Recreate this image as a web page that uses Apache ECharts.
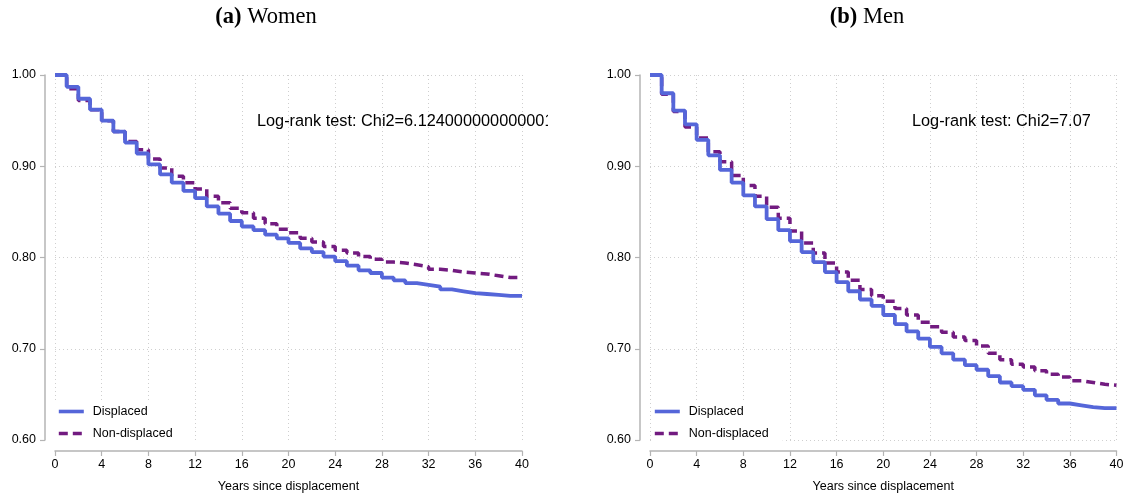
<!DOCTYPE html>
<html>
<head>
<meta charset="utf-8">
<title>Survival by displacement</title>
<script src="https://cdn.jsdelivr.net/npm/echarts@6/dist/echarts.min.js"></script>
<style>
  html, body { margin: 0; padding: 0; background: #fff; }
  #chart { width: 1130px; height: 498px; }
</style>
</head>
<body>
<div id="chart"></div>
<script>
// years since displacement (one step per year)
const years = [0, 1, 2, 3, 4, 5, 6, 7, 8, 9, 10, 11, 12, 13, 14, 15, 16, 17, 18, 19, 20,
  21, 22, 23, 24, 25, 26, 27, 28, 29, 30, 31, 32, 33, 34, 35, 36, 37, 38, 39, 40];

// (a) Women
const womenDisplaced = [1.000, 0.987, 0.974, 0.962, 0.950, 0.938, 0.926, 0.914, 0.902, 0.891,
  0.882, 0.873, 0.865, 0.856, 0.848, 0.840, 0.834, 0.830, 0.825, 0.821,
  0.816, 0.810, 0.806, 0.801, 0.796, 0.791, 0.786, 0.783, 0.778, 0.775,
  0.772, 0.770, 0.768, 0.765, 0.763, 0.761, 0.760, 0.759, 0.758, 0.758, 0.758];
const womenNonDisplaced = [1.000, 0.985, 0.972, 0.962, 0.950, 0.938, 0.927, 0.918, 0.908, 0.898,
  0.889, 0.882, 0.875, 0.867, 0.860, 0.854, 0.849, 0.843, 0.837, 0.831,
  0.827, 0.821, 0.817, 0.812, 0.808, 0.805, 0.801, 0.798, 0.795, 0.794,
  0.792, 0.790, 0.787, 0.786, 0.784, 0.783, 0.782, 0.780, 0.778, 0.778, 0.778];

// (b) Men
const menDisplaced = [1.000, 0.980, 0.961, 0.946, 0.929, 0.912, 0.896, 0.882, 0.868, 0.856,
  0.842, 0.830, 0.818, 0.806, 0.795, 0.784, 0.773, 0.763, 0.754, 0.747,
  0.737, 0.727, 0.719, 0.711, 0.702, 0.695, 0.688, 0.682, 0.677, 0.670,
  0.663, 0.659, 0.655, 0.649, 0.644, 0.640, 0.638, 0.636, 0.635, 0.635, 0.635];
const menNonDisplaced = [1.000, 0.979, 0.960, 0.943, 0.931, 0.916, 0.905, 0.890, 0.879, 0.867,
  0.855, 0.843, 0.829, 0.816, 0.805, 0.794, 0.784, 0.775, 0.765, 0.758,
  0.752, 0.744, 0.737, 0.729, 0.724, 0.718, 0.713, 0.709, 0.703, 0.695,
  0.688, 0.683, 0.680, 0.676, 0.672, 0.669, 0.665, 0.663, 0.661, 0.660, 0.660];

const panelTitles = ["(a)", "(b)"];
const panelNames = ["Women", "Men"];
const logRankText = ["Log-rank test: Chi2=6.124000000000001", "Log-rank test: Chi2=7.07"];
const seriesNames = ["Displaced", "Non-displaced"];
const xName = "Years since displacement";

const BLUE = "#5566d9";
const PURPLE = "#721b80";
const AXIS_GREY = "#b4b4b4";
const GRID_GREY = "#cfcfcf";
const SANS = "'Liberation Sans', Arial, Helvetica, sans-serif";
const SERIF = "'Liberation Serif', 'Times New Roman', serif";

function pairs(ys) {
  return years.map((x, i) => [x, ys[i]]);
}

// plot areas in px (x = 0..40, y = 0.60..1.00)
const grids = [
  { left: 55, right: 608, top: 75, bottom: 57 },
  { left: 650, right: 13.5, top: 75, bottom: 57 }
];

function makeX(i) {
  return {
    type: "value",
    gridIndex: i,
    min: 0,
    max: 40,
    interval: 4,
    offset: 11,
    name: xName,
    nameLocation: "middle",
    nameGap: 29,
    nameTextStyle: { fontFamily: SANS, fontSize: 12.5, color: "#000" },
    axisLine: { onZero: false, lineStyle: { color: AXIS_GREY, width: 1.5 } },
    axisTick: { length: 5, lineStyle: { color: AXIS_GREY, width: 1.2 } },
    axisLabel: { fontFamily: SANS, fontSize: 12.5, color: "#000", margin: 7 },
    splitLine: { show: true, lineStyle: { color: GRID_GREY, type: [1, 3], width: 1 } }
  };
}

function makeY(i) {
  return {
    type: "value",
    gridIndex: i,
    min: 0.6,
    max: 1.0,
    interval: 0.1,
    offset: 10,
    axisLine: { show: true, onZero: false, lineStyle: { color: AXIS_GREY, width: 1.5 } },
    axisTick: { show: true, length: 5, lineStyle: { color: AXIS_GREY, width: 1.2 } },
    axisLabel: {
      fontFamily: SANS, fontSize: 12.5, color: "#000", margin: 9,
      formatter: v => v.toFixed(2)
    },
    splitLine: {
      show: true,
      showMinLine: i === 1,
      lineStyle: { color: GRID_GREY, type: [1, 3], width: 1 }
    }
  };
}

function makeLine(name, ys, i, dashed) {
  return {
    name: name,
    type: "line",
    xAxisIndex: i,
    yAxisIndex: i,
    step: "end",
    symbol: "none",
    data: pairs(ys),
    z: dashed ? 2 : 3,
    lineStyle: dashed
      ? { color: PURPLE, width: 3.5, type: [9, 5] }
      : { color: BLUE, width: 3.8 },
    itemStyle: { color: dashed ? PURPLE : BLUE }
  };
}

function makeLegend(left) {
  return {
    data: seriesNames,
    orient: "vertical",
    left: left,
    top: 401,
    itemWidth: 25,
    itemHeight: 12,
    itemGap: 9,
    padding: [4, 14, 4, 2],
    backgroundColor: "#fff",
    // line series draw a circle in the icon when symbol is none; hide it
    itemStyle: { opacity: 0 },
    lineStyle: { width: 3.6 },
    textStyle: { fontFamily: SANS, fontSize: 12.5, color: "#000", padding: [0, 0, 0, 4] },
    selectedMode: false
  };
}

function titleText(i, cx) {
  return {
    type: "text",
    x: cx,
    y: 6,
    style: {
      text: "{b|" + panelTitles[i] + "} " + panelNames[i],
      font: "22.5px " + SERIF,
      fill: "#000",
      align: "center",
      rich: {
        b: { fontFamily: SERIF, fontSize: 22.5, fontWeight: "bold" }
      }
    }
  };
}

const chart = echarts.init(document.getElementById("chart"), null, { renderer: "canvas" });

chart.setOption({
  backgroundColor: "#fff",
  animation: false,
  grid: grids,
  xAxis: [makeX(0), makeX(1)],
  yAxis: [makeY(0), makeY(1)],
  legend: [makeLegend(55), makeLegend(651)],
  series: [
    makeLine(seriesNames[0], womenDisplaced, 0, false),
    makeLine(seriesNames[1], womenNonDisplaced, 0, true),
    makeLine(seriesNames[0], menDisplaced, 1, false),
    makeLine(seriesNames[1], menNonDisplaced, 1, true)
  ],
  graphic: [
    titleText(0, 266),
    titleText(1, 867),
    {
      type: "text",
      left: 257,
      top: 114,
      z: 10,
      style: { text: logRankText[0], font: "16.3px " + SANS, fill: "#000" }
    },
    {
      // the left panel's label runs off its own image edge
      type: "rect",
      left: 548,
      top: 105,
      z: 11,
      shape: { width: 40, height: 35 },
      style: { fill: "#fff" }
    },
    {
      type: "text",
      left: 912,
      top: 114,
      z: 10,
      style: { text: logRankText[1], font: "16.3px " + SANS, fill: "#000" }
    }
  ]
});
</script>
</body>
</html>
